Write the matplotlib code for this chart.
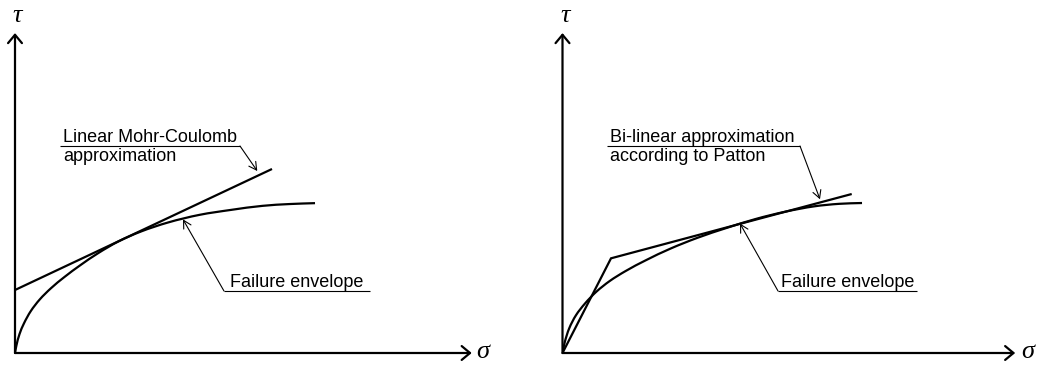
import matplotlib
matplotlib.use("Agg")
import numpy as np
import matplotlib.pyplot as plt
from matplotlib.path import Path
from matplotlib.patches import PathPatch

# ---- curve data (normal stress sigma, shear stress tau; arbitrary units) ----
# Left panel: curved failure envelope and linear Mohr-Coulomb tangent
env_left_sigma = [0.0, 0.03, 0.1, 0.2, 0.35, 0.55, 0.8, 1.1, 1.45, 1.85,
                  2.3, 2.8, 3.4, 4.1, 4.8, 5.5, 6.1, 6.667]
env_left_tau = [0.0, 0.16, 0.42, 0.66, 0.93, 1.19, 1.44, 1.69, 1.95, 2.22,
                2.48, 2.70, 2.90, 3.07, 3.18, 3.27, 3.31, 3.33]
mc_sigma = [0.0, 5.711]
mc_tau = [1.40, 4.089]

# Right panel: curved failure envelope and Patton's bi-linear approximation
env_right_sigma = [0.0, 0.05, 0.15, 0.3, 0.5, 0.75, 1.05, 1.4, 1.85, 2.4,
                   3.0, 3.65, 4.3, 4.95, 5.6, 6.15, 6.656]
env_right_tau = [0.0, 0.24, 0.55, 0.84, 1.10, 1.36, 1.60, 1.82, 2.06, 2.32,
                 2.56, 2.78, 2.98, 3.14, 3.26, 3.315, 3.333]
patton_sigma = [0.0, 1.078, 6.427]
patton_tau = [0.0, 2.104, 3.533]

# ---- labels ----
left_label = ["Linear Mohr-Coulomb", "approximation"]
right_label = ["Bi-linear approximation", "according to Patton"]
envelope_label = "Failure envelope"
x_symbol = "σ"
y_symbol = "τ"

W, H, DPI = 1046, 367, 100
PX = 45.0  # pixels per data unit (same in both directions)
fig = plt.figure(figsize=(W / DPI, H / DPI), dpi=DPI)

SANS = "Liberation Sans"
SERIF = "Liberation Serif"
LW = 1.6
THIN = 0.8


def make_axes(x0_px, y0_px, right_px):
    width_px = right_px - x0_px
    ax = fig.add_axes([x0_px / W, (H - y0_px) / H, width_px / W, y0_px / H])
    ax.set_xlim(0, width_px / PX)
    ax.set_ylim(0, y0_px / PX)
    ax.axis("off")
    return ax


def smooth_curve(ax, xs, ys, **kw):
    """Draw a smooth cubic Bezier path passing through the given points."""
    p = np.column_stack([xs, ys]).astype(float)
    seg = np.diff(p, axis=0)
    d = np.hypot(seg[:, 0], seg[:, 1])
    u = seg / d[:, None]
    tang = np.empty_like(p)
    tang[0] = u[0]
    tang[-1] = u[-1]
    tang[1:-1] = u[:-1] + u[1:]
    tang /= np.hypot(tang[:, 0], tang[:, 1])[:, None]
    verts = [p[0]]
    codes = [Path.MOVETO]
    for i in range(len(p) - 1):
        verts += [p[i] + tang[i] * d[i] / 3, p[i + 1] - tang[i + 1] * d[i] / 3,
                  p[i + 1]]
        codes += [Path.CURVE4] * 3
    ax.add_patch(PathPatch(Path(verts, codes), fill=False, **kw))


def draw_frame(ax, x_tip, y_tip, sym_x_pos, sym_y_pos):
    axis_arrow = dict(arrowstyle="->,head_length=0.6,head_width=0.5",
                      lw=LW, color="black", shrinkA=0, shrinkB=0)
    ax.annotate("", xy=(0, y_tip), xytext=(0, 0), arrowprops=axis_arrow)
    ax.annotate("", xy=(x_tip, 0), xytext=(0, 0), arrowprops=axis_arrow)
    ax.text(*sym_y_pos, y_symbol, family=SERIF, style="italic", fontsize=19,
            ha="center", va="center")
    ax.text(*sym_x_pos, x_symbol, family=SERIF, style="italic", fontsize=19,
            ha="center", va="center")


def callout(ax, lines, text_xy, line_span, line_y, tip, leader_from_right=True):
    x_text, y_base = text_xy
    for i, s in enumerate(lines):
        ax.text(x_text, y_base - i * 0.422, s, family=SANS, fontsize=13,
                ha="left", va="baseline")
    ax.plot(line_span, [line_y, line_y], color="black", lw=THIN,
            solid_capstyle="butt")
    start = line_span[1] if leader_from_right else line_span[0]
    ax.annotate("", xy=tip, xytext=(start, line_y),
                arrowprops=dict(arrowstyle="->,head_length=0.55,head_width=0.3",
                                lw=THIN, color="black", shrinkA=0, shrinkB=0))


# ---- left panel ----
axl = make_axes(15, 353, 523)
draw_frame(axl, 10.15, 7.11, (10.4, 0.02), (0.05, 7.5))
smooth_curve(axl, env_left_sigma, env_left_tau, color="black", lw=LW)
axl.plot(mc_sigma, mc_tau, color="black", lw=LW, solid_capstyle="butt")
callout(axl, left_label, (1.067, 4.689), [1.0, 5.0], 4.6, (5.384, 4.044))
callout(axl, [envelope_label], (4.78, 1.456), [4.644, 7.889], 1.378,
        (3.733, 2.97), leader_from_right=False)

# ---- right panel ----
axr = make_axes(562.5, 353, 1046)
draw_frame(axr, 10.06, 7.11, (10.34, 0.02), (0.05, 7.5))
smooth_curve(axr, env_right_sigma, env_right_tau, color="black", lw=LW)
axr.plot(patton_sigma, patton_tau, color="black", lw=LW,
         solid_joinstyle="miter", solid_capstyle="butt")
callout(axr, right_label, (1.056, 4.689), [0.989, 5.278], 4.6, (5.722, 3.416))
callout(axr, [envelope_label], (4.856, 1.456), [4.789, 7.878], 1.378,
        (3.944, 2.878), leader_from_right=False)

fig.savefig("out.png", dpi=DPI, facecolor="white")
